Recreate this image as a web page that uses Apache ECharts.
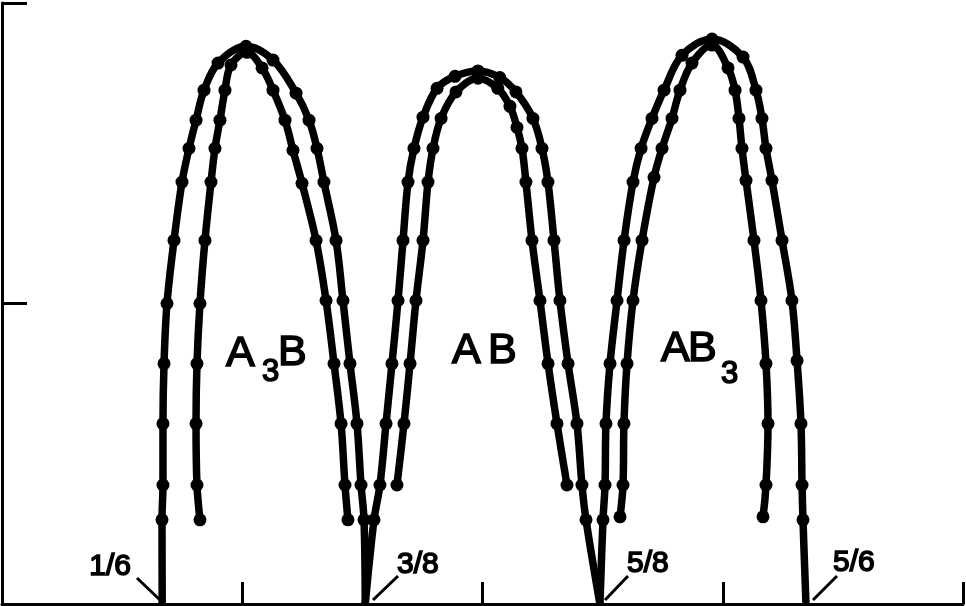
<!DOCTYPE html>
<html><head><meta charset="utf-8">
<script src="https://cdn.jsdelivr.net/npm/echarts@6/dist/echarts.min.js"></script>
<style>html,body{margin:0;padding:0;background:#fff}#c{width:966px;height:606px}</style>
</head><body><div id="c"></div>
<script>
// ---- data (x = composition fraction, y = reduced temperature) ----
const xTickValues = [0, 0.25, 0.5, 0.75, 1];
const yTickValues = [0, 0.5, 1];
const fractionLabels = ['1/6', '3/8', '5/8', '5/6'];

const a3bOuter = [[0.1667,0],[0.1665,0.14],[0.1675,0.198],[0.1675,0.30],[0.1686,0.40],[0.1717,0.50],[0.1790,0.605],[0.1873,0.702],[0.1946,0.758],[0.2019,0.805],[0.2102,0.855],[0.2248,0.90],[0.2539,0.928],[0.282,0.905],[0.306,0.85],[0.3195,0.805],[0.3278,0.758],[0.335,0.702],[0.3476,0.605],[0.3548,0.505],[0.3621,0.40],[0.3694,0.30],[0.3736,0.198],[0.3767,0.14],[0.378,0]];
const a3bInner = [[0.206,0.14],[0.2029,0.198],[0.2019,0.30],[0.2029,0.40],[0.206,0.50],[0.2112,0.605],[0.2175,0.702],[0.2216,0.758],[0.2268,0.805],[0.232,0.855],[0.2383,0.897],[0.255,0.918],[0.2706,0.892],[0.282,0.855],[0.2945,0.805],[0.3028,0.755],[0.3122,0.70],[0.3268,0.605],[0.3372,0.505],[0.3455,0.40],[0.3528,0.30],[0.3569,0.198],[0.36,0.14]];
const abOuter = [[0.378,0],[0.3871,0.14],[0.3933,0.198],[0.3996,0.30],[0.4058,0.40],[0.4121,0.505],[0.4173,0.605],[0.4225,0.702],[0.4287,0.758],[0.4381,0.81],[0.4527,0.858],[0.4714,0.878],[0.4953,0.887],[0.518,0.876],[0.5348,0.852],[0.5525,0.808],[0.5619,0.758],[0.5681,0.702],[0.5744,0.605],[0.5806,0.505],[0.589,0.40],[0.5983,0.30],[0.6035,0.198],[0.6077,0.14],[0.6222,0]];
const abInner = [[0.411,0.198],[0.4183,0.30],[0.4246,0.40],[0.4308,0.505],[0.4381,0.605],[0.4433,0.702],[0.4485,0.758],[0.4569,0.808],[0.4724,0.852],[0.4953,0.875],[0.5159,0.858],[0.5286,0.828],[0.5359,0.793],[0.5411,0.758],[0.5452,0.702],[0.5515,0.605],[0.5598,0.505],[0.5682,0.40],[0.5775,0.30],[0.5879,0.198]];
const ab3Outer = [[0.6222,0],[0.6254,0.14],[0.6275,0.198],[0.6285,0.30],[0.6327,0.40],[0.64,0.505],[0.6473,0.605],[0.6566,0.702],[0.6650,0.758],[0.6764,0.808],[0.6889,0.855],[0.7076,0.913],[0.7388,0.94],[0.7711,0.91],[0.7846,0.855],[0.7908,0.808],[0.7950,0.758],[0.8012,0.705],[0.8117,0.605],[0.822,0.505],[0.8273,0.405],[0.8314,0.30],[0.8325,0.198],[0.8335,0.14],[0.8366,0]];
const ab3Inner = [[0.6431,0.145],[0.6462,0.198],[0.6472,0.30],[0.6504,0.40],[0.6566,0.505],[0.6660,0.605],[0.6785,0.71],[0.6868,0.758],[0.6972,0.808],[0.7055,0.855],[0.718,0.90],[0.7388,0.93],[0.7555,0.892],[0.7628,0.855],[0.7669,0.808],[0.770,0.758],[0.7742,0.705],[0.7825,0.605],[0.7898,0.505],[0.795,0.40],[0.7971,0.30],[0.795,0.198],[0.7919,0.145]];

// ---- build ----
const chart = echarts.init(document.getElementById('c'), null, {renderer: 'canvas'});
const FONT = '"Liberation Sans", Arial, sans-serif';

function curve(name, pts) {
  return {
    name, type: 'line', smooth: 0.35,
    symbol: 'circle', symbolSize: 13,
    data: pts.map(p => p[1] === 0 ? {value: p, symbol: 'none'} : p),
    lineStyle: {color: '#000', width: 7.5},
    itemStyle: {color: '#000'},
    emphasis: {disabled: true},
    silent: true
  };
}

function txt(t, x, y, size, align) {
  return {
    type: 'text', x: x, y: y, silent: true,
    style: {text: t, font: 'normal ' + size + 'px ' + FONT, fill: '#000',
      stroke: '#000', lineWidth: 1.6,
      textAlign: align || 'left', align: align || 'left',
      textVerticalAlign: 'middle', verticalAlign: 'middle'}
  };
}
function seg(x1, y1, x2, y2) {
  return {type: 'line', silent: true, shape: {x1, y1, x2, y2}, style: {stroke: '#000', lineWidth: 3}};
}

const graphics = [
  // phase labels
  txt('A', 226, 354, 43), txt('3', 262, 372, 31), txt('B', 278, 353, 43),
  txt('A', 452, 351, 43), txt('B', 488, 351, 43),
  txt('A', 661, 349, 43), txt('B', 688, 349, 43), txt('3', 721, 374, 31),
  // fraction labels and leaders
  txt(fractionLabels[0], 131, 567, 30, 'right'), seg(137, 578, 160, 600),
  txt(fractionLabels[1], 397, 565, 30), seg(398, 576, 373, 600),
  txt(fractionLabels[2], 627, 564, 30), seg(628, 576, 605, 600),
  txt(fractionLabels[3], 833, 563, 30), seg(837, 576, 813, 600)
];

chart.setOption({
  animation: false,
  backgroundColor: '#fff',
  grid: {left: 2, right: 3, top: 3, bottom: 2, containLabel: false},
  xAxis: {
    type: 'value', min: xTickValues[0], max: xTickValues[xTickValues.length - 1],
    interval: xTickValues[1] - xTickValues[0],
    axisLine: {show: true, lineStyle: {color: '#000', width: 3}},
    axisTick: {show: true, inside: true, length: 22, lineStyle: {color: '#000', width: 3}},
    axisLabel: {show: false}, splitLine: {show: false}
  },
  yAxis: {
    type: 'value', min: yTickValues[0], max: yTickValues[yTickValues.length - 1],
    interval: yTickValues[1] - yTickValues[0],
    axisLine: {show: true, lineStyle: {color: '#000', width: 3}},
    axisTick: {show: true, inside: true, length: 25, lineStyle: {color: '#000', width: 3}},
    axisLabel: {show: false}, splitLine: {show: false}
  },
  series: [
    curve('A3B outer', a3bOuter), curve('A3B inner', a3bInner),
    curve('AB outer', abOuter), curve('AB inner', abInner),
    curve('AB3 outer', ab3Outer), curve('AB3 inner', ab3Inner)
  ],
  graphic: graphics
});
</script></body></html>
